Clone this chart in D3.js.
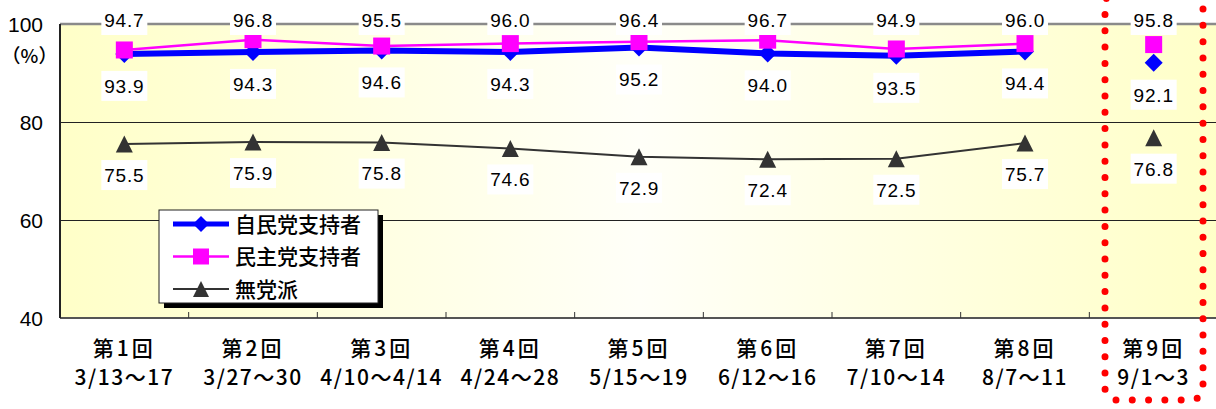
<!DOCTYPE html>
<html>
<head>
<meta charset="utf-8">
<script src="https://cdn.jsdelivr.net/npm/d3@7"></script>
<style>
  body { margin: 0; background: #fff; }
  svg { display: block; }
  .num { font-family: "Liberation Sans", Arial, sans-serif; }
  .jp { font-family: "Noto Sans CJK JP", sans-serif; font-weight: 500; }
</style>
</head>
<body>
<svg width="1216" height="409"></svg>
<script>
// data
const rounds = ["第1回", "第2回", "第3回", "第4回", "第5回", "第6回", "第7回", "第8回", "第9回"];
const dates = ["3/13～17", "3/27～30", "4/10～4/14", "4/24～28", "5/15～19", "6/12～16", "7/10～14", "8/7～11", "9/1～3"];
const ldp = [93.9, 94.3, 94.6, 94.3, 95.2, 94.0, 93.5, 94.4, 92.1];
const dpj = [94.7, 96.8, 95.5, 96.0, 96.4, 96.7, 94.9, 96.0, 95.8];
const indep = [75.5, 75.9, 75.8, 74.6, 72.9, 72.4, 72.5, 75.7, 76.8];
const yTicks = [40, 60, 80, 100];
const seriesNames = ["自民党支持者", "民主党支持者", "無党派"];

const svg = d3.select("svg");
const margin = { left: 60, right: -2, top: 24, bottom: 91 };
const width = +svg.attr("width");
const height = +svg.attr("height");

const x = d3.scaleBand().domain(rounds).range([margin.left, width - margin.right]);
const y = d3.scaleLinear().domain([40, 100]).range([height - margin.bottom, margin.top]);

// background gradient
const defs = svg.append("defs");
const grad = defs.append("linearGradient").attr("id", "bg").attr("x1", "0").attr("x2", "1").attr("y1", "0").attr("y2", "0");
grad.append("stop").attr("offset", "0").attr("stop-color", "#ffffc8");
grad.append("stop").attr("offset", "0.5").attr("stop-color", "#fffff8");
grad.append("stop").attr("offset", "1").attr("stop-color", "#ffffc8");

svg.append("rect")
  .attr("x", margin.left).attr("y", y(100))
  .attr("width", width - margin.left - margin.right).attr("height", y(40) - y(100))
  .attr("fill", "url(#bg)");

// grid lines
const grid = svg.append("g")
  .attr("transform", `translate(${margin.left},0)`)
  .call(d3.axisLeft(y).tickValues([60, 80]).tickSize(-(width - margin.left)).tickFormat(""));
grid.select(".domain").remove();
grid.selectAll("line").attr("stroke", "#222").attr("stroke-width", 1.2);

// top line at 100
svg.append("line")
  .attr("x1", margin.left).attr("x2", width)
  .attr("y1", y(100)).attr("y2", y(100))
  .attr("stroke", "#8a8a8a").attr("stroke-width", 2.5);

// bottom axis line + ticks
svg.append("line")
  .attr("x1", margin.left).attr("x2", width)
  .attr("y1", y(40)).attr("y2", y(40))
  .attr("stroke", "#555").attr("stroke-width", 2);
svg.append("g").selectAll("line")
  .data(rounds.slice(1))
  .join("line")
  .attr("x1", d => x(d)).attr("x2", d => x(d))
  .attr("y1", y(40) - 6).attr("y2", y(40))
  .attr("stroke", "#333").attr("stroke-width", 1);

// left axis
svg.append("line")
  .attr("x1", margin.left).attr("x2", margin.left)
  .attr("y1", y(100)).attr("y2", y(40))
  .attr("stroke", "#222").attr("stroke-width", 2);

// y labels
svg.append("g").selectAll("text")
  .data(yTicks)
  .join("text")
  .attr("class", "num")
  .attr("x", 43).attr("y", d => y(d))
  .attr("dy", "0.36em")
  .attr("text-anchor", "end")
  .attr("font-size", 21)
  .text(d => d);
svg.append("text")
  .attr("class", "jp")
  .attr("x", 29.5).attr("y", 56)
  .attr("dy", "0.36em")
  .attr("text-anchor", "middle")
  .attr("font-size", 19)
  .text("（%）");

// x labels
const xl = svg.append("g").selectAll("g")
  .data(rounds)
  .join("g")
  .attr("transform", d => `translate(${x(d) + x.bandwidth() / 2},0)`);
xl.append("text")
  .attr("class", "jp")
  .attr("y", 348).attr("dy", "0.36em")
  .attr("text-anchor", "middle")
  .attr("font-size", 21)
  .attr("letter-spacing", 3)
  .text(d => d);
xl.append("text")
  .attr("class", "jp")
  .attr("y", 377).attr("dy", "0.36em")
  .attr("text-anchor", "middle")
  .attr("font-size", 21)
  .attr("letter-spacing", 1.5)
  .text((d, i) => dates[i]);

const cx = i => x(rounds[i]) + x.bandwidth() / 2;

// lines (first 8 rounds connected)
const line = d3.line().x((d, i) => cx(i)).y(d => y(d));
const series = [
  { vals: indep, color: "#333333", w: 2 },
  { vals: ldp, color: "#0000ff", w: 6 },
  { vals: dpj, color: "#ff00ff", w: 2.5 }
];
series.forEach(s => {
  svg.append("path")
    .datum(s.vals.slice(0, 8))
    .attr("d", line)
    .attr("fill", "none")
    .attr("stroke", s.color)
    .attr("stroke-width", s.w);
});

// markers
svg.append("g").selectAll("path")
  .data(ldp)
  .join("path")
  .attr("transform", (d, i) => `translate(${cx(i)},${y(d)})`)
  .attr("d", "M0,-9L9,0L0,9L-9,0Z")
  .attr("fill", "#0000ff");

svg.append("g").selectAll("rect")
  .data(dpj)
  .join("rect")
  .attr("x", (d, i) => cx(i) - 8.5).attr("y", d => y(d) - 8.5)
  .attr("width", 17).attr("height", 17)
  .attr("fill", "#ff00ff");

svg.append("g").selectAll("path")
  .data(indep)
  .join("path")
  .attr("d", "M0,-8.5L8.5,8.5H-8.5Z")
  .attr("transform", (d, i) => `translate(${cx(i)},${y(d)})`)
  .attr("fill", "#333333");

// data labels
const labelSets = [
  { vals: dpj, pos: d => Math.max(y(d) - 31, 20) },
  { vals: ldp, pos: d => y(d) + 32 },
  { vals: indep, pos: d => y(d) + 31 }
];
labelSets.forEach(set => {
  const g = svg.append("g").selectAll("g")
    .data(set.vals)
    .join("g")
    .attr("transform", (d, i) => `translate(${cx(i)},${set.pos(d)})`);
  g.append("rect")
    .attr("x", -23).attr("y", -15)
    .attr("width", 46).attr("height", 30)
    .attr("fill", "#fff");
  g.append("text")
    .attr("class", "num")
    .attr("dy", "0.36em")
    .attr("text-anchor", "middle")
    .attr("font-size", 19)
    .attr("letter-spacing", 0.8)
    .text(d => d.toFixed(1));
});

// legend
const lg = svg.append("g").attr("transform", "translate(159,210)");
lg.append("rect").attr("x", 5).attr("y", 5).attr("width", 219).attr("height", 93).attr("fill", "#000");
lg.append("rect").attr("x", 0).attr("y", 0).attr("width", 219).attr("height", 93)
  .attr("fill", "#fff").attr("stroke", "#222").attr("stroke-width", 1);
const items = lg.selectAll(".item")
  .data(seriesNames)
  .join("g")
  .attr("class", "item")
  .attr("transform", (d, i) => `translate(0,${14 + i * 32.5})`);
const legendColors = ["#0000ff", "#ff00ff", "#333333"];
const legendWidths = [5, 2.5, 2];
items.append("line")
  .attr("x1", 14).attr("x2", 70)
  .attr("stroke", (d, i) => legendColors[i])
  .attr("stroke-width", (d, i) => legendWidths[i]);
items.append("path")
  .attr("transform", "translate(42,0)")
  .attr("d", (d, i) => i === 0 ? "M0,-8L8,0L0,8L-8,0Z" : i === 1 ? "M-8,-8H8V8H-8Z" : "M0,-8L8,8H-8Z")
  .attr("fill", (d, i) => legendColors[i]);
items.append("text")
  .attr("class", "jp")
  .attr("x", 76).attr("dy", "0.36em")
  .attr("font-size", 21)
  .text(d => d);

// red dotted highlight around round 9
svg.append("rect")
  .attr("x", 1105).attr("y", -8)
  .attr("width", 98).attr("height", 408)
  .attr("rx", 12)
  .attr("fill", "none")
  .attr("stroke", "#ff0000")
  .attr("stroke-width", 7)
  .attr("stroke-linecap", "round")
  .attr("stroke-dasharray", "0 16.3");
</script>
</body>
</html>
